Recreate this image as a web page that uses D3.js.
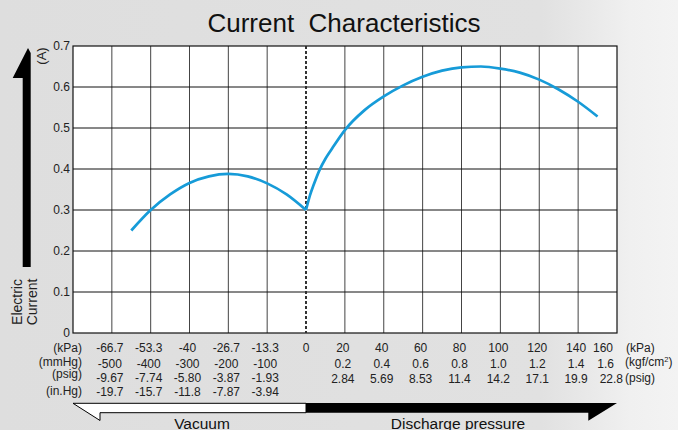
<!DOCTYPE html>
<html>
<head>
<meta charset="utf-8">
<script src="https://cdn.jsdelivr.net/npm/d3@7"></script>
<style>
  body { margin: 0; }
  svg { display: block; font-family: "Liberation Sans", Arial, Helvetica, sans-serif; }
</style>
</head>
<body>
<svg id="chart" width="678" height="430"></svg>
<script>
// current (A) on the vacuum side, x in mmHg
var vacuumMmHg = [-450, -400, -350, -300, -250, -200, -150, -100, -50, 0];
var vacuumAmp  = [0.25, 0.30, 0.338, 0.366, 0.382, 0.388, 0.382, 0.365, 0.338, 0.30];

// current (A) on the discharge side, x in kPa
var dischargeKPa = [0, 2, 4, 7, 10, 13, 20, 30, 40, 50, 60, 70, 80, 90, 100, 110, 120, 130, 140, 150];
var dischargeAmp = [0.30, 0.335, 0.362, 0.398, 0.425, 0.447, 0.495, 0.543, 0.577, 0.604, 0.625, 0.640, 0.648, 0.650, 0.645, 0.635, 0.618, 0.594, 0.564, 0.528];

var yTicks = [0, 0.1, 0.2, 0.3, 0.4, 0.5, 0.6, 0.7];

// tick labels, vacuum side (one column per 100 mmHg)
var vacTickMmHg = [-500, -400, -300, -200, -100, 0];
var vacKPa   = ['-66.7', '-53.3', '-40', '-26.7', '-13.3', '0'];
var vacMmHg  = ['-500', '-400', '-300', '-200', '-100'];
var vacPsig  = ['-9.67', '-7.74', '-5.80', '-3.87', '-1.93'];
var vacInHg  = ['-19.7', '-15.7', '-11.8', '-7.87', '-3.94'];

// tick labels, discharge side (one column per 20 kPa)
var posTickKPa = [20, 40, 60, 80, 100, 120, 140, 160];
var posKPa  = ['20', '40', '60', '80', '100', '120', '140', '160'];
var posKgf  = ['0.2', '0.4', '0.6', '0.8', '1.0', '1.2', '1.4', '1.6'];
var posPsig = ['2.84', '5.69', '8.53', '11.4', '14.2', '17.1', '19.9', '22.8'];

var MMHG_TO_KPA = 101.325 / 760;

(function () {
    var svg = d3.select('#chart');
    var pL = 73, pR = 617, pT = 46, pB = 333;

    // two different units per column, so a piecewise scale
    var x = d3.scaleLinear().domain([-80, 0, 160]).range([pL, 306, pR]);
    var y = d3.scaleLinear().domain([0, 0.7]).range([pB, pT]);

    // background
    var defs = svg.append('defs');
    var grad = defs.append('linearGradient').attr('id', 'bg').attr('x1', 0).attr('x2', 1).attr('y1', 0).attr('y2', 0);
    grad.append('stop').attr('offset', '0%').attr('stop-color', '#dedede');
    grad.append('stop').attr('offset', '80%').attr('stop-color', '#e1e1e1');
    grad.append('stop').attr('offset', '93%').attr('stop-color', '#f0f0f0');
    grad.append('stop').attr('offset', '100%').attr('stop-color', '#f3f3f3');
    svg.append('rect').attr('width', 678).attr('height', 430).attr('fill', 'url(#bg)');

    svg.append('text')
        .attr('x', 344).attr('y', 32)
        .attr('text-anchor', 'middle')
        .attr('font-size', 26)
        .attr('fill', '#111')
        .style('white-space', 'pre')
        .text('Current  Characteristics');

    // plot area
    svg.append('rect')
        .attr('x', pL).attr('y', pT)
        .attr('width', pR - pL).attr('height', pB - pT)
        .attr('fill', '#fff');

    var vLines = vacTickMmHg.slice(0, 5).map(function (m) { return x(m * MMHG_TO_KPA); })
        .concat(posTickKPa.slice(0, 7).map(function (k) { return x(k); }));

    svg.append('g').attr('class', 'v-grid').selectAll('line').data(vLines).enter().append('line')
        .attr('x1', function (d) { return d; }).attr('x2', function (d) { return d; })
        .attr('y1', pT).attr('y2', pB)
        .attr('stroke', '#444').attr('stroke-width', 1);

    svg.append('g').attr('class', 'h-grid').selectAll('line').data(yTicks.slice(1, 7)).enter().append('line')
        .attr('x1', pL).attr('x2', pR)
        .attr('y1', function (d) { return y(d); }).attr('y2', function (d) { return y(d); })
        .attr('stroke', '#111').attr('stroke-width', 1);

    svg.append('rect')
        .attr('x', pL).attr('y', pT)
        .attr('width', pR - pL).attr('height', pB - pT)
        .attr('fill', 'none').attr('stroke', '#111').attr('stroke-width', 1.2);

    // zero line
    svg.append('line')
        .attr('x1', x(0)).attr('x2', x(0)).attr('y1', pT).attr('y2', pB)
        .attr('stroke', '#fff').attr('stroke-width', 1.6);
    svg.append('line')
        .attr('x1', x(0)).attr('x2', x(0)).attr('y1', pT).attr('y2', pB)
        .attr('stroke', '#000').attr('stroke-width', 1.6).attr('stroke-dasharray', '3,2');

    // y axis
    var yAxis = svg.append('g').attr('transform', 'translate(' + pL + ',0)')
        .call(d3.axisLeft(y).tickValues(yTicks).tickSize(0).tickPadding(3)
            .tickFormat(function (d) { return d === 0 ? '0' : d3.format('.1f')(d); }));
    yAxis.select('.domain').remove();
    yAxis.selectAll('text').attr('font-size', 12).attr('fill', '#222')
        .style('font-family', '"Liberation Sans", Arial, Helvetica, sans-serif');

    // curves
    var line = d3.line()
        .x(function (d) { return x(d[0]); })
        .y(function (d) { return y(d[1]); })
        .curve(d3.curveMonotoneX);

    var vacPts = vacuumMmHg.map(function (m, i) { return [m * MMHG_TO_KPA, vacuumAmp[i]]; });
    var posPts = dischargeKPa.map(function (k, i) { return [k, dischargeAmp[i]]; });

    svg.selectAll('path.curve').data([vacPts, posPts]).enter().append('path')
        .attr('class', 'curve')
        .attr('d', line)
        .attr('fill', 'none')
        .attr('stroke', '#169bd8')
        .attr('stroke-width', 2.7)
        .attr('stroke-linejoin', 'round');

    // x labels
    var labels = svg.append('g').attr('font-size', 12).attr('fill', '#222');

    function row(values, ticks, baseline, lastEnd) {
        labels.append('g').selectAll('text').data(values).enter().append('text')
            .attr('x', function (d, i) { return (lastEnd && i === values.length - 1) ? lastEnd : ticks[i]; })
            .attr('y', baseline)
            .attr('text-anchor', function (d, i) { return (lastEnd && i === values.length - 1) ? 'end' : 'middle'; })
            .text(function (d) { return d; });
    }

    var vacX = vacTickMmHg.map(function (m) { return x(m * MMHG_TO_KPA) - 2; });
    var posX = posTickKPa.map(function (k) { return x(k) - 2; });

    row(vacKPa, vacX.map(function (d, i) { return i === 5 ? d + 2 : d; }), 351.5);
    row(vacMmHg, vacX, 368);
    row(vacPsig, vacX, 382);
    row(vacInHg, vacX, 395.5);

    row(posKPa, posX, 351.5, 613);
    row(posKgf, posX, 367.5, 614);
    row(posPsig, posX, 382.5, 623);

    var rowHeads = [
        { t: '(kPa)', x: 82, y: 351.5, a: 'end' },
        { t: '(mmHg)', x: 82, y: 365.5, a: 'end' },
        { t: '(psig)', x: 82, y: 378, a: 'end' },
        { t: '(in.Hg)', x: 82, y: 394.5, a: 'end' },
        { t: '(kPa)', x: 626, y: 351.5, a: 'start' },
        { t: '(psig)', x: 625, y: 381.5, a: 'start' }
    ];
    labels.append('g').selectAll('text').data(rowHeads).enter().append('text')
        .attr('x', function (d) { return d.x; }).attr('y', function (d) { return d.y; })
        .attr('text-anchor', function (d) { return d.a; })
        .text(function (d) { return d.t; });

    var kgf = labels.append('text').attr('x', 625).attr('y', 365.5);
    kgf.append('tspan').text('(kgf/cm');
    kgf.append('tspan').attr('font-size', 7.5).attr('dy', -4).text('2');
    kgf.append('tspan').attr('dy', 4).text(')');

    // y title and arrow
    svg.append('path')
        .attr('d', 'M12.7,78 L28,48 L30.7,53 L30.7,267 L22.7,267 L22.7,78 Z')
        .attr('fill', '#000');

    svg.append('text')
        .attr('transform', 'translate(45.5,56) rotate(-90)')
        .attr('text-anchor', 'middle')
        .attr('font-size', 13).attr('fill', '#222')
        .text('(A)');

    var yTitle = svg.append('text')
        .attr('transform', 'translate(0,302) rotate(-90)')
        .attr('text-anchor', 'middle')
        .attr('font-size', 14).attr('fill', '#222');
    yTitle.append('tspan').attr('x', 0).attr('y', 22).text('Electric');
    yTitle.append('tspan').attr('x', 0).attr('y', 37).text('Current');

    // bottom arrows
    var x0 = x(0);
    svg.append('path')
        .attr('d', 'M' + pL + ',403.3 L' + x0 + ',403.3 L' + x0 + ',412.7 L100,412.7 L100,420.5 Z')
        .attr('fill', '#fff').attr('stroke', '#000').attr('stroke-width', 1);
    svg.append('path')
        .attr('d', 'M' + x0 + ',403 L' + pR + ',403 L588.3,420.7 L588.3,412.7 L' + x0 + ',412.7 Z')
        .attr('fill', '#000');

    svg.append('text').attr('x', 202).attr('y', 429).attr('text-anchor', 'middle')
        .attr('font-size', 15.5).attr('fill', '#111').text('Vacuum');
    svg.append('text').attr('x', 458).attr('y', 429).attr('text-anchor', 'middle')
        .attr('font-size', 15.5).attr('fill', '#111').text('Discharge pressure');
})();
</script>
</body>
</html>
